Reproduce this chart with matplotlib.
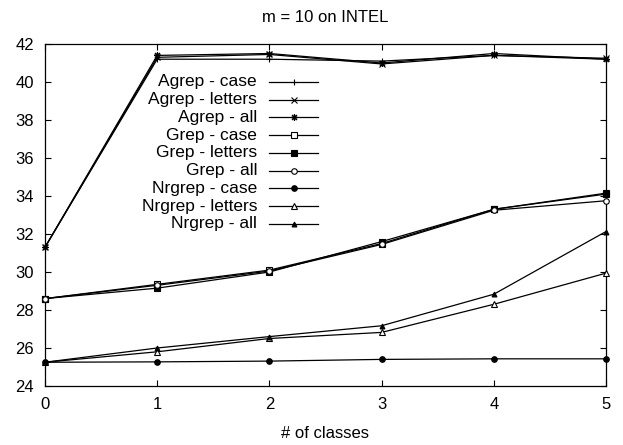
import numpy as np
import matplotlib
matplotlib.use("Agg")
import matplotlib.pyplot as plt

plt.rcParams['font.family'] = ['Liberation Sans', 'DejaVu Sans']

# ---------------------------------------------------------------
# data
# ---------------------------------------------------------------
classes = [0, 1, 2, 3, 4, 5]

agrep_case = [31.3, 41.2, 41.2, 41.1, 41.4, 41.2]
agrep_letters = [31.3, 41.3, 41.45, 40.95, 41.4, 41.25]
agrep_all = [31.3, 41.4, 41.5, 41.0, 41.5, 41.2]
grep_case = [28.6, 29.35, 30.1, 31.5, 33.3, 34.1]
grep_letters = [28.6, 29.15, 30.0, 31.6, 33.3, 34.15]
grep_all = [28.6, 29.3, 30.05, 31.45, 33.25, 33.75]
nrgrep_case = [25.25, 25.27, 25.31, 25.4, 25.43, 25.43]
nrgrep_letters = [25.25, 25.8, 26.5, 26.82, 28.3, 29.94]
nrgrep_all = [25.25, 26.0, 26.6, 27.17, 28.83, 32.13]

labels = ["Agrep - case", "Agrep - letters", "Agrep - all",
          "Grep - case", "Grep - letters", "Grep - all",
          "Nrgrep - case", "Nrgrep - letters", "Nrgrep - all"]
series = [agrep_case, agrep_letters, agrep_all,
          grep_case, grep_letters, grep_all,
          nrgrep_case, nrgrep_letters, nrgrep_all]

# marker style per series: (marker, filled, size)
styles = [("+", True, 5), ("x", True, 4), ((8, 2, 0), True, 5),
          ("s", False, 4), ("s", True, 4), ("o", False, 4),
          ("o", True, 4), ("^", False, 4), ("^", True, 3.5)]

# ---------------------------------------------------------------
# figure
# ---------------------------------------------------------------
fig = plt.figure(figsize=(6.23, 4.45), dpi=100)
ax = fig.add_axes([0.0722, 0.1326, 0.9005, 0.7685])

for lab, vals, (mk, filled, ms) in zip(labels, series, styles):
    ax.plot(classes, vals, color="black", linewidth=0.9, marker=mk,
            markersize=ms, markeredgewidth=0.8,
            markerfacecolor="black" if filled else "white",
            markeredgecolor="black", clip_on=False, zorder=3)

ax.set_xlim(0, 5)
ax.set_ylim(24, 42)
ax.set_xticks(classes)
ax.set_yticks(np.arange(24, 43, 2))
ax.tick_params(direction="in", top=True, right=True, length=4,
               labelsize=12)
ax.tick_params(axis="x", pad=8)
ax.tick_params(axis="y", pad=8)
for sp in ax.spines.values():
    sp.set_linewidth(0.9)

ax.set_title("m = 10 on INTEL", fontsize=12, pad=16)
ax.set_xlabel("# of classes", fontsize=12, labelpad=10)

# gnuplot style key: right aligned text, sample line to the right
key_top = 0.889
key_step = 0.0519
for i, (lab, (mk, filled, ms)) in enumerate(zip(labels, styles)):
    yk = key_top - i * key_step
    ax.text(0.378, yk, lab, transform=ax.transAxes, ha="right",
            va="center", fontsize=12.5)
    ax.plot([0.399, 0.487], [yk, yk], transform=ax.transAxes,
            color="black", linewidth=0.9)
    ax.plot([0.443], [yk], transform=ax.transAxes, color="black",
            marker=mk, markersize=ms, markeredgewidth=0.8,
            markerfacecolor="black" if filled else "white",
            markeredgecolor="black", linestyle="none")

fig.savefig("out.png", dpi=100)
